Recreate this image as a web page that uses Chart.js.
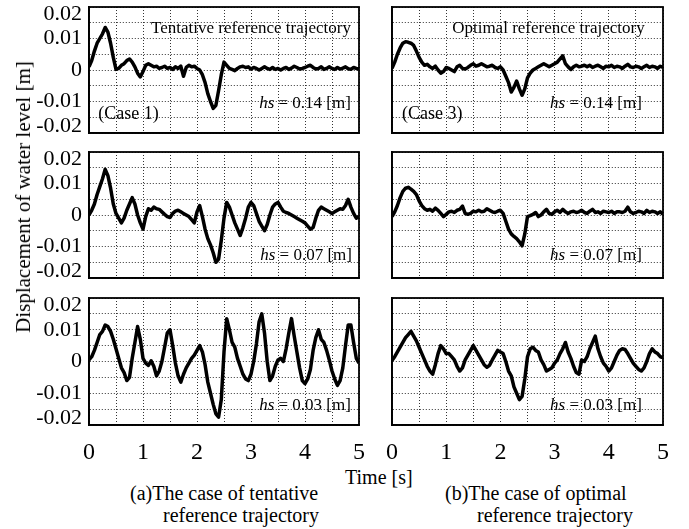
<!DOCTYPE html>
<html>
<head>
<meta charset="utf-8">
<script src="https://cdn.jsdelivr.net/npm/chart.js@4.4.0/dist/chart.umd.min.js"></script>
<style>
  html, body { margin: 0; padding: 0; background: #fff; }
  body { width: 689px; height: 529px; position: relative; overflow: hidden;
         font-family: 'Liberation Serif', 'Times New Roman', serif; color: #000; }
  .panel { position: absolute; }
  .txt { position: absolute; white-space: nowrap; line-height: 20px; font-size: 20px; }
</style>
</head>
<body>
<div class="panel" id="box1"><canvas id="c1"></canvas></div>
<div class="panel" id="box2"><canvas id="c2"></canvas></div>
<div class="panel" id="box3"><canvas id="c3"></canvas></div>
<div class="panel" id="box4"><canvas id="c4"></canvas></div>
<div class="panel" id="box5"><canvas id="c5"></canvas></div>
<div class="panel" id="box6"><canvas id="c6"></canvas></div>

<div class="txt" id="ytitle" style="left:23px; top:197px; font-size:21px; transform:translate(-50%,-50%) rotate(-90deg);">Displacement of water level [m]</div>
<div class="txt" style="left:345px; top:467px;">Time [s]</div>
<div class="txt" style="left:130px; top:483px;">(a)The case of tentative</div>
<div class="txt" style="left:163px; top:505px;">reference trajectory</div>
<div class="txt" style="left:445px; top:483px;">(b)The case of optimal</div>
<div class="txt" style="left:477px; top:505px;">reference trajectory</div>

<script>
// time axis [s], one sample every 0.05 s
const times = [
  0, 0.05, 0.1, 0.15, 0.2, 0.25, 0.3, 0.35, 0.4, 0.45,
  0.5, 0.55, 0.6, 0.65, 0.7, 0.75, 0.8, 0.85, 0.9, 0.95,
  1, 1.05, 1.1, 1.15, 1.2, 1.25, 1.3, 1.35, 1.4, 1.45,
  1.5, 1.55, 1.6, 1.65, 1.7, 1.75, 1.8, 1.85, 1.9, 1.95,
  2, 2.05, 2.1, 2.15, 2.2, 2.25, 2.3, 2.35, 2.4, 2.45,
  2.5, 2.55, 2.6, 2.65, 2.7, 2.75, 2.8, 2.85, 2.9, 2.95,
  3, 3.05, 3.1, 3.15, 3.2, 3.25, 3.3, 3.35, 3.4, 3.45,
  3.5, 3.55, 3.6, 3.65, 3.7, 3.75, 3.8, 3.85, 3.9, 3.95,
  4, 4.05, 4.1, 4.15, 4.2, 4.25, 4.3, 4.35, 4.4, 4.45,
  4.5, 4.55, 4.6, 4.65, 4.7, 4.75, 4.8, 4.85, 4.9, 4.95,
  5
];

// displacement of water level [m]
const tentative014 = [
  0.0010, 0.0030, 0.0060, 0.0085, 0.0100, 0.0115, 0.0135, 0.0120, 0.0085, 0.0040,
  0.0002, 0.0005, 0.0015, 0.0020, 0.0030, 0.0035, 0.0025, 0.0010, -0.0010, -0.0022,
  -0.0005, 0.0015, 0.0020, 0.0015, 0.0010, 0.0012, 0.0005, 0.0008, 0.0012, 0.0005,
  0.0008, 0.0002, 0.0010, 0.0005, 0.0012, -0.0020, 0.0008, 0.0015, 0.0010, 0.0012,
  0.0005, 0.0000, -0.0015, -0.0040, -0.0075, -0.0100, -0.0122, -0.0112, -0.0065, -0.0015,
  0.0025, 0.0015, 0.0005, 0.0002, -0.0002, 0.0005, 0.0010, 0.0012, 0.0008, 0.0010,
  0.0003, 0.0008, 0.0005, 0.0000, 0.0005, 0.0010, 0.0005, 0.0002, 0.0008, 0.0002,
  0.0005, 0.0000, 0.0005, 0.0008, 0.0002, 0.0006, 0.0012, 0.0008, 0.0003, 0.0005,
  0.0008, 0.0012, 0.0015, 0.0008, 0.0003, 0.0005, 0.0010, 0.0002, 0.0005, 0.0010,
  0.0005, 0.0002, 0.0008, 0.0003, 0.0006, 0.0010, 0.0004, 0.0002, 0.0008, 0.0005,
  0.0003
];
const optimal014 = [
  0.0005, 0.0025, 0.0050, 0.0070, 0.0085, 0.0090, 0.0088, 0.0085, 0.0078, 0.0060,
  0.0040, 0.0025, 0.0015, 0.0018, 0.0010, 0.0005, 0.0012, 0.0000, -0.0010, -0.0005,
  0.0008, 0.0005, 0.0000, -0.0005, 0.0010, 0.0015, 0.0005, 0.0003, 0.0008, 0.0015,
  0.0020, 0.0012, 0.0015, 0.0020, 0.0015, 0.0010, 0.0012, 0.0015, 0.0008, 0.0005,
  0.0010, 0.0000, -0.0020, -0.0040, -0.0070, -0.0055, -0.0035, -0.0060, -0.0080, -0.0060,
  -0.0025, -0.0010, 0.0000, 0.0005, 0.0010, 0.0015, 0.0020, 0.0015, 0.0010, 0.0015,
  0.0020, 0.0025, 0.0035, 0.0045, 0.0020, 0.0010, 0.0002, 0.0010, 0.0015, 0.0010,
  0.0012, 0.0015, 0.0010, 0.0015, 0.0008, 0.0012, 0.0015, 0.0010, 0.0005, 0.0012,
  0.0010, 0.0015, 0.0008, 0.0012, 0.0010, 0.0005, 0.0012, 0.0018, 0.0010, 0.0008,
  0.0012, 0.0010, 0.0005, 0.0010, 0.0015, 0.0008, 0.0012, 0.0010, 0.0005, 0.0012,
  0.0008
];
const tentative007 = [
  0.0000, 0.0015, 0.0035, 0.0065, 0.0090, 0.0115, 0.0145, 0.0125, 0.0085, 0.0035,
  0.0005, -0.0010, -0.0025, -0.0010, 0.0015, 0.0035, 0.0055, 0.0035, 0.0000, -0.0025,
  -0.0045, -0.0005, 0.0020, 0.0015, 0.0025, 0.0020, 0.0018, 0.0010, 0.0002, -0.0005,
  -0.0008, 0.0005, 0.0012, 0.0015, 0.0010, 0.0005, 0.0000, -0.0005, -0.0015, -0.0025,
  0.0010, 0.0030, -0.0005, -0.0045, -0.0075, -0.0095, -0.0120, -0.0150, -0.0140, -0.0080,
  -0.0010, 0.0040, 0.0025, 0.0000, -0.0025, -0.0045, -0.0065, -0.0040, -0.0010, 0.0025,
  0.0040, 0.0030, 0.0005, -0.0020, -0.0035, -0.0050, -0.0030, 0.0000, 0.0025, 0.0035,
  0.0040, 0.0025, 0.0012, 0.0008, 0.0005, 0.0000, -0.0005, -0.0010, -0.0015, -0.0020,
  -0.0025, -0.0035, -0.0045, -0.0040, -0.0010, 0.0015, 0.0025, 0.0020, 0.0015, 0.0010,
  0.0005, 0.0010, 0.0015, 0.0020, 0.0018, 0.0030, 0.0050, 0.0025, 0.0005, -0.0010,
  -0.0005
];
const optimal007 = [
  -0.0005, 0.0010, 0.0030, 0.0055, 0.0075, 0.0085, 0.0088, 0.0082, 0.0075, 0.0065,
  0.0045, 0.0030, 0.0020, 0.0015, 0.0018, 0.0012, 0.0022, 0.0015, 0.0005, -0.0005,
  0.0002, 0.0010, 0.0012, 0.0008, 0.0015, 0.0018, 0.0028, 0.0005, 0.0002, 0.0005,
  0.0012, 0.0010, 0.0015, 0.0010, 0.0012, 0.0020, 0.0015, 0.0010, 0.0008, 0.0012,
  0.0015, 0.0005, -0.0020, -0.0045, -0.0060, -0.0068, -0.0075, -0.0085, -0.0098, -0.0060,
  -0.0005, -0.0002, 0.0002, 0.0008, -0.0005, 0.0000, 0.0010, 0.0018, 0.0005, 0.0002,
  0.0010, 0.0015, 0.0008, 0.0018, 0.0010, 0.0005, 0.0010, 0.0012, 0.0008, 0.0010,
  0.0015, 0.0008, 0.0005, 0.0012, 0.0018, 0.0008, 0.0010, 0.0005, 0.0012, 0.0010,
  0.0008, 0.0012, 0.0005, 0.0010, 0.0010, 0.0008, 0.0012, 0.0025, 0.0010, 0.0005,
  0.0008, 0.0012, 0.0010, 0.0005, 0.0015, 0.0008, 0.0012, 0.0010, 0.0005, 0.0010,
  0.0003
];
const tentative003 = [
  0.0005, 0.0015, 0.0035, 0.0060, 0.0085, 0.0095, 0.0115, 0.0110, 0.0095, 0.0070,
  0.0040, 0.0010, -0.0020, -0.0035, -0.0060, -0.0050, 0.0010, 0.0060, 0.0110, 0.0070,
  0.0010, -0.0005, -0.0012, 0.0002, -0.0015, -0.0045, -0.0030, 0.0000, 0.0045, 0.0090,
  0.0100, 0.0050, -0.0005, -0.0045, -0.0065, -0.0040, -0.0020, -0.0005, 0.0010, 0.0020,
  0.0035, 0.0050, 0.0030, -0.0010, -0.0065, -0.0100, -0.0135, -0.0165, -0.0175, -0.0120,
  0.0030, 0.0135, 0.0100, 0.0060, 0.0045, 0.0010, -0.0015, -0.0040, -0.0055, -0.0060,
  -0.0040, 0.0000, 0.0055, 0.0125, 0.0150, 0.0090, 0.0000, -0.0060, -0.0045, -0.0015,
  0.0005, 0.0010, 0.0000, 0.0040, 0.0090, 0.0135, 0.0080, 0.0030, -0.0020, -0.0060,
  -0.0070, -0.0055, -0.0025, 0.0035, 0.0075, 0.0100, 0.0070, 0.0060, 0.0035, 0.0005,
  -0.0030, -0.0055, -0.0075, -0.0060, -0.0020, 0.0050, 0.0115, 0.0115, 0.0060, 0.0010,
  -0.0005
];
const optimal003 = [
  0.0003, 0.0015, 0.0030, 0.0045, 0.0060, 0.0075, 0.0085, 0.0095, 0.0080, 0.0065,
  0.0045, 0.0025, 0.0005, -0.0015, -0.0030, -0.0040, -0.0010, 0.0025, 0.0050, 0.0040,
  0.0025, 0.0025, 0.0015, 0.0005, -0.0015, -0.0030, -0.0020, 0.0005, 0.0020, 0.0035,
  0.0050, 0.0035, 0.0020, 0.0005, -0.0010, -0.0018, -0.0012, 0.0005, 0.0020, 0.0035,
  0.0030, 0.0025, 0.0000, -0.0030, -0.0045, -0.0080, -0.0100, -0.0120, -0.0110, -0.0055,
  0.0015, 0.0040, 0.0045, 0.0035, 0.0030, 0.0005, -0.0010, -0.0030, -0.0025, -0.0020,
  -0.0005, 0.0005, 0.0025, 0.0040, 0.0060, 0.0030, 0.0010, -0.0015, -0.0035, -0.0040,
  0.0005, 0.0000, 0.0015, 0.0040, 0.0060, 0.0080, 0.0040, 0.0015, -0.0005, -0.0015,
  -0.0030, -0.0020, 0.0000, 0.0020, 0.0035, 0.0040, 0.0038, 0.0025, 0.0010, -0.0005,
  -0.0015, -0.0025, -0.0030, -0.0020, 0.0000, 0.0025, 0.0040, 0.0030, 0.0025, 0.0015,
  0.0012
];

// tick labels
const xTickValues = [0, 1, 2, 3, 4, 5];
const xTickLabels = ['0', '1', '2', '3', '4', '5'];
const yTickValues = [0.02, 0.01, 0, -0.01, -0.02];
const yTickLabels = ['0.02', '0.01', '0', '-0.01', '-0.02'];

const serif = "'Liberation Serif', 'Times New Roman', serif";

// black frame around the plot area
const framePlugin = {
  id: 'frame',
  afterDraw(chart) {
    const a = chart.chartArea;
    const ctx = chart.ctx;
    ctx.save();
    ctx.strokeStyle = '#000';
    ctx.lineWidth = 1.8;
    ctx.strokeRect(a.left, a.top, a.right - a.left, a.bottom - a.top);
    ctx.restore();
  }
};

// texts inside a panel, placed in data coordinates
function textPlugin(items) {
  return {
    id: 'panelText',
    afterDraw(chart) {
      const ctx = chart.ctx;
      const xs = chart.scales.x, ys = chart.scales.y;
      ctx.save();
      ctx.fillStyle = '#000';
      ctx.textBaseline = 'middle';
      items.forEach(it => {
        const px = xs.getPixelForValue(it.x);
        const py = ys.getPixelForValue(it.y);
        // measure the pieces first (some are italic)
        const parts = it.parts.map(p => {
          ctx.font = (p.italic ? 'italic ' : '') + it.size + 'px ' + serif;
          return { text: p.text, font: ctx.font, w: ctx.measureText(p.text).width };
        });
        const total = parts.reduce((s, p) => s + p.w, 0);
        let x = it.align === 'right' ? px - total : px;
        parts.forEach(p => {
          ctx.font = p.font;
          ctx.textAlign = 'left';
          ctx.fillText(p.text, x, py);
          x += p.w;
        });
      });
      ctx.restore();
    }
  };
}

function hsText(value) {
  return [{ text: 'hs', italic: true }, { text: ' = ' + value + ' [m]' }];
}

function makePanel(canvasId, boxId, values, opt) {
  const box = document.getElementById(boxId);
  box.style.left = opt.left + 'px';
  box.style.top = opt.top + 'px';
  box.style.width = opt.width + 'px';
  box.style.height = opt.height + 'px';

  const points = times.map((t, i) => ({ x: t, y: values[i] }));

  new Chart(document.getElementById(canvasId), {
    type: 'line',
    data: {
      datasets: [{
        data: points,
        borderColor: '#000',
        borderWidth: 3.5,
        borderJoinStyle: 'round',
        pointRadius: 0,
        tension: 0,
        fill: false
      }]
    },
    options: {
      responsive: true,
      maintainAspectRatio: false,
      animation: false,
      events: [],
      layout: { padding: opt.padding },
      plugins: { legend: { display: false }, tooltip: { enabled: false } },
      scales: {
        x: {
          type: 'linear',
          min: 0, max: 5,
          grid: { color: '#333', lineWidth: 1, drawTicks: false },
          border: { display: true, color: '#000', width: 1.8, dash: [1, 2] },
          ticks: {
            display: opt.showX,
            stepSize: 0.5,
            autoSkip: false,
            maxRotation: 0,
            padding: 3,
            color: '#000',
            font: { family: serif, size: 24, lineHeight: 2.1 },
            callback: v => {
              const i = xTickValues.findIndex(t => Math.abs(t - v) < 1e-9);
              return i >= 0 ? xTickLabels[i] : '';
            }
          },
          afterFit: s => { s.height = opt.showX ? 40 : 0; }
        },
        y: {
          type: 'linear',
          min: -0.02, max: 0.02,
          grid: { color: '#333', lineWidth: 1, drawTicks: false },
          border: { display: true, color: '#000', width: 1.8, dash: [1, 2] },
          ticks: {
            display: opt.showY,
            stepSize: 0.005,
            autoSkip: false,
            padding: 7,
            color: '#000',
            font: { family: serif, size: 22, lineHeight: 0.62 },
            callback: v => {
              const i = yTickValues.findIndex(t => Math.abs(t - v) < 1e-9);
              if (i < 0) return '';
              // keep the end labels inside the panel height
              if (i === 0) return ['', yTickLabels[i]];
              if (i === yTickLabels.length - 1) return [yTickLabels[i], ''];
              return yTickLabels[i];
            }
          },
          afterFit: s => { s.width = opt.showY ? 89 : 0; }
        }
      }
    },
    plugins: [framePlugin, textPlugin(opt.texts)]
  });
}

// left column: plot area x 89..359, right column: x 392..663
// rows: plot area y 7..133, 152..278, 298..425
const leftCol = { left: 0, width: 372, showY: true };
const rightCol = { left: 380, width: 296, showY: false };
const rows = [
  { top: -14, height: 168, showX: false, pad: { top: 21, bottom: 21 } },
  { top: 131, height: 168, showX: false, pad: { top: 21, bottom: 21 } },
  { top: 277, height: 188, showX: true, pad: { top: 21, bottom: 0 } }
];

function panelOpt(col, row, texts) {
  return {
    left: col.left, width: col.width, top: row.top, height: row.height,
    showX: row.showX, showY: col.showY,
    padding: { left: col.showY ? 0 : 12, right: 13, top: row.pad.top, bottom: row.pad.bottom },
    texts: texts
  };
}

makePanel('c1', 'box1', tentative014, panelOpt(leftCol, rows[0], [
  { x: 1.15, y: 0.0133, size: 17, parts: [{ text: 'Tentative reference trajectory' }] },
  { x: 0.17, y: -0.014, size: 18, parts: [{ text: '(Case 1)' }] },
  { x: 4.85, y: -0.0108, size: 17, align: 'right', parts: hsText('0.14') }
]));
makePanel('c2', 'box2', optimal014, panelOpt(rightCol, rows[0], [
  { x: 1.11, y: 0.0133, size: 17, parts: [{ text: 'Optimal reference trajectory' }] },
  { x: 0.185, y: -0.014, size: 18, parts: [{ text: '(Case 3)' }] },
  { x: 4.61, y: -0.0108, size: 17, align: 'right', parts: hsText('0.14') }
]));
makePanel('c3', 'box3', tentative007, panelOpt(leftCol, rows[1], [
  { x: 4.87, y: -0.013, size: 17, align: 'right', parts: hsText('0.07') }
]));
makePanel('c4', 'box4', optimal007, panelOpt(rightCol, rows[1], [
  { x: 4.61, y: -0.013, size: 17, align: 'right', parts: hsText('0.07') }
]));
makePanel('c5', 'box5', tentative003, panelOpt(leftCol, rows[2], [
  { x: 4.85, y: -0.014, size: 17, align: 'right', parts: hsText('0.03') }
]));
makePanel('c6', 'box6', optimal003, panelOpt(rightCol, rows[2], [
  { x: 4.61, y: -0.014, size: 17, align: 'right', parts: hsText('0.03') }
]));
</script>
</body>
</html>
